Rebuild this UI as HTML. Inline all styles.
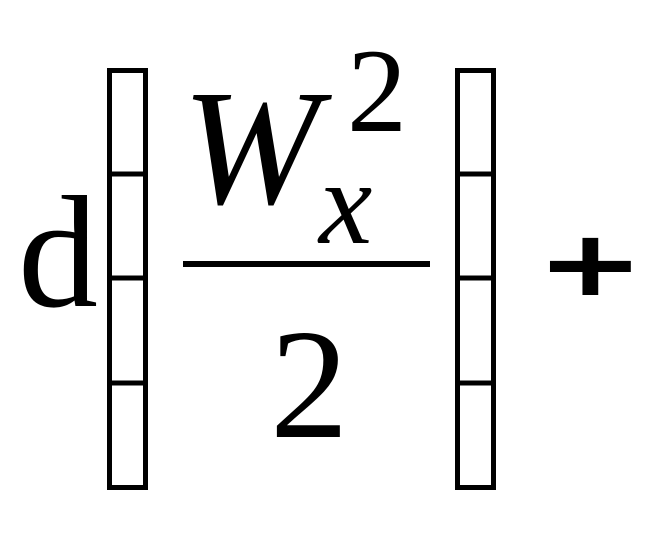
<!DOCTYPE html>
<html><head><style>
html,body{margin:0;padding:0;background:#fff;width:654px;height:534px;overflow:hidden}
svg{display:block}
</style></head><body>
<svg width="654" height="534" viewBox="0 0 654 534" xmlns="http://www.w3.org/2000/svg">
<rect width="654" height="534" fill="#fff"/>
<text x="18" y="306" font-family="Liberation Serif, serif" font-size="160" fill="#000">d</text>
<g fill="none" stroke="#000" stroke-width="5">
<rect x="109.5" y="70.5" width="36" height="417"/>
<line x1="109" y1="174" x2="146" y2="174"/>
<line x1="109" y1="278" x2="146" y2="278"/>
<line x1="109" y1="383" x2="146" y2="383"/>
<rect x="457.5" y="70.5" width="36" height="417"/>
<line x1="457" y1="174" x2="494" y2="174"/>
<line x1="457" y1="278" x2="494" y2="278"/>
<line x1="457" y1="383" x2="494" y2="383"/>
</g>
<text x="182" y="203" font-family="Liberation Serif, serif" font-style="italic" font-size="165" fill="#000">W</text>
<text x="347" y="131" font-family="Liberation Serif, serif" font-size="120" fill="#000">2</text>
<text x="319" y="243" font-family="Liberation Serif, serif" font-style="italic" font-size="120" fill="#000">x</text>
<rect x="183" y="261" width="247" height="6" fill="#000"/>
<text x="270" y="437" font-family="Liberation Serif, serif" font-size="157" fill="#000">2</text>
<text transform="translate(591,268) scale(1.22,0.86)" x="-39" y="43" font-family="Liberation Serif, serif" font-weight="bold" font-size="135" fill="#000" stroke="#000" stroke-width="3.5">+</text>
</svg>
</body></html>
